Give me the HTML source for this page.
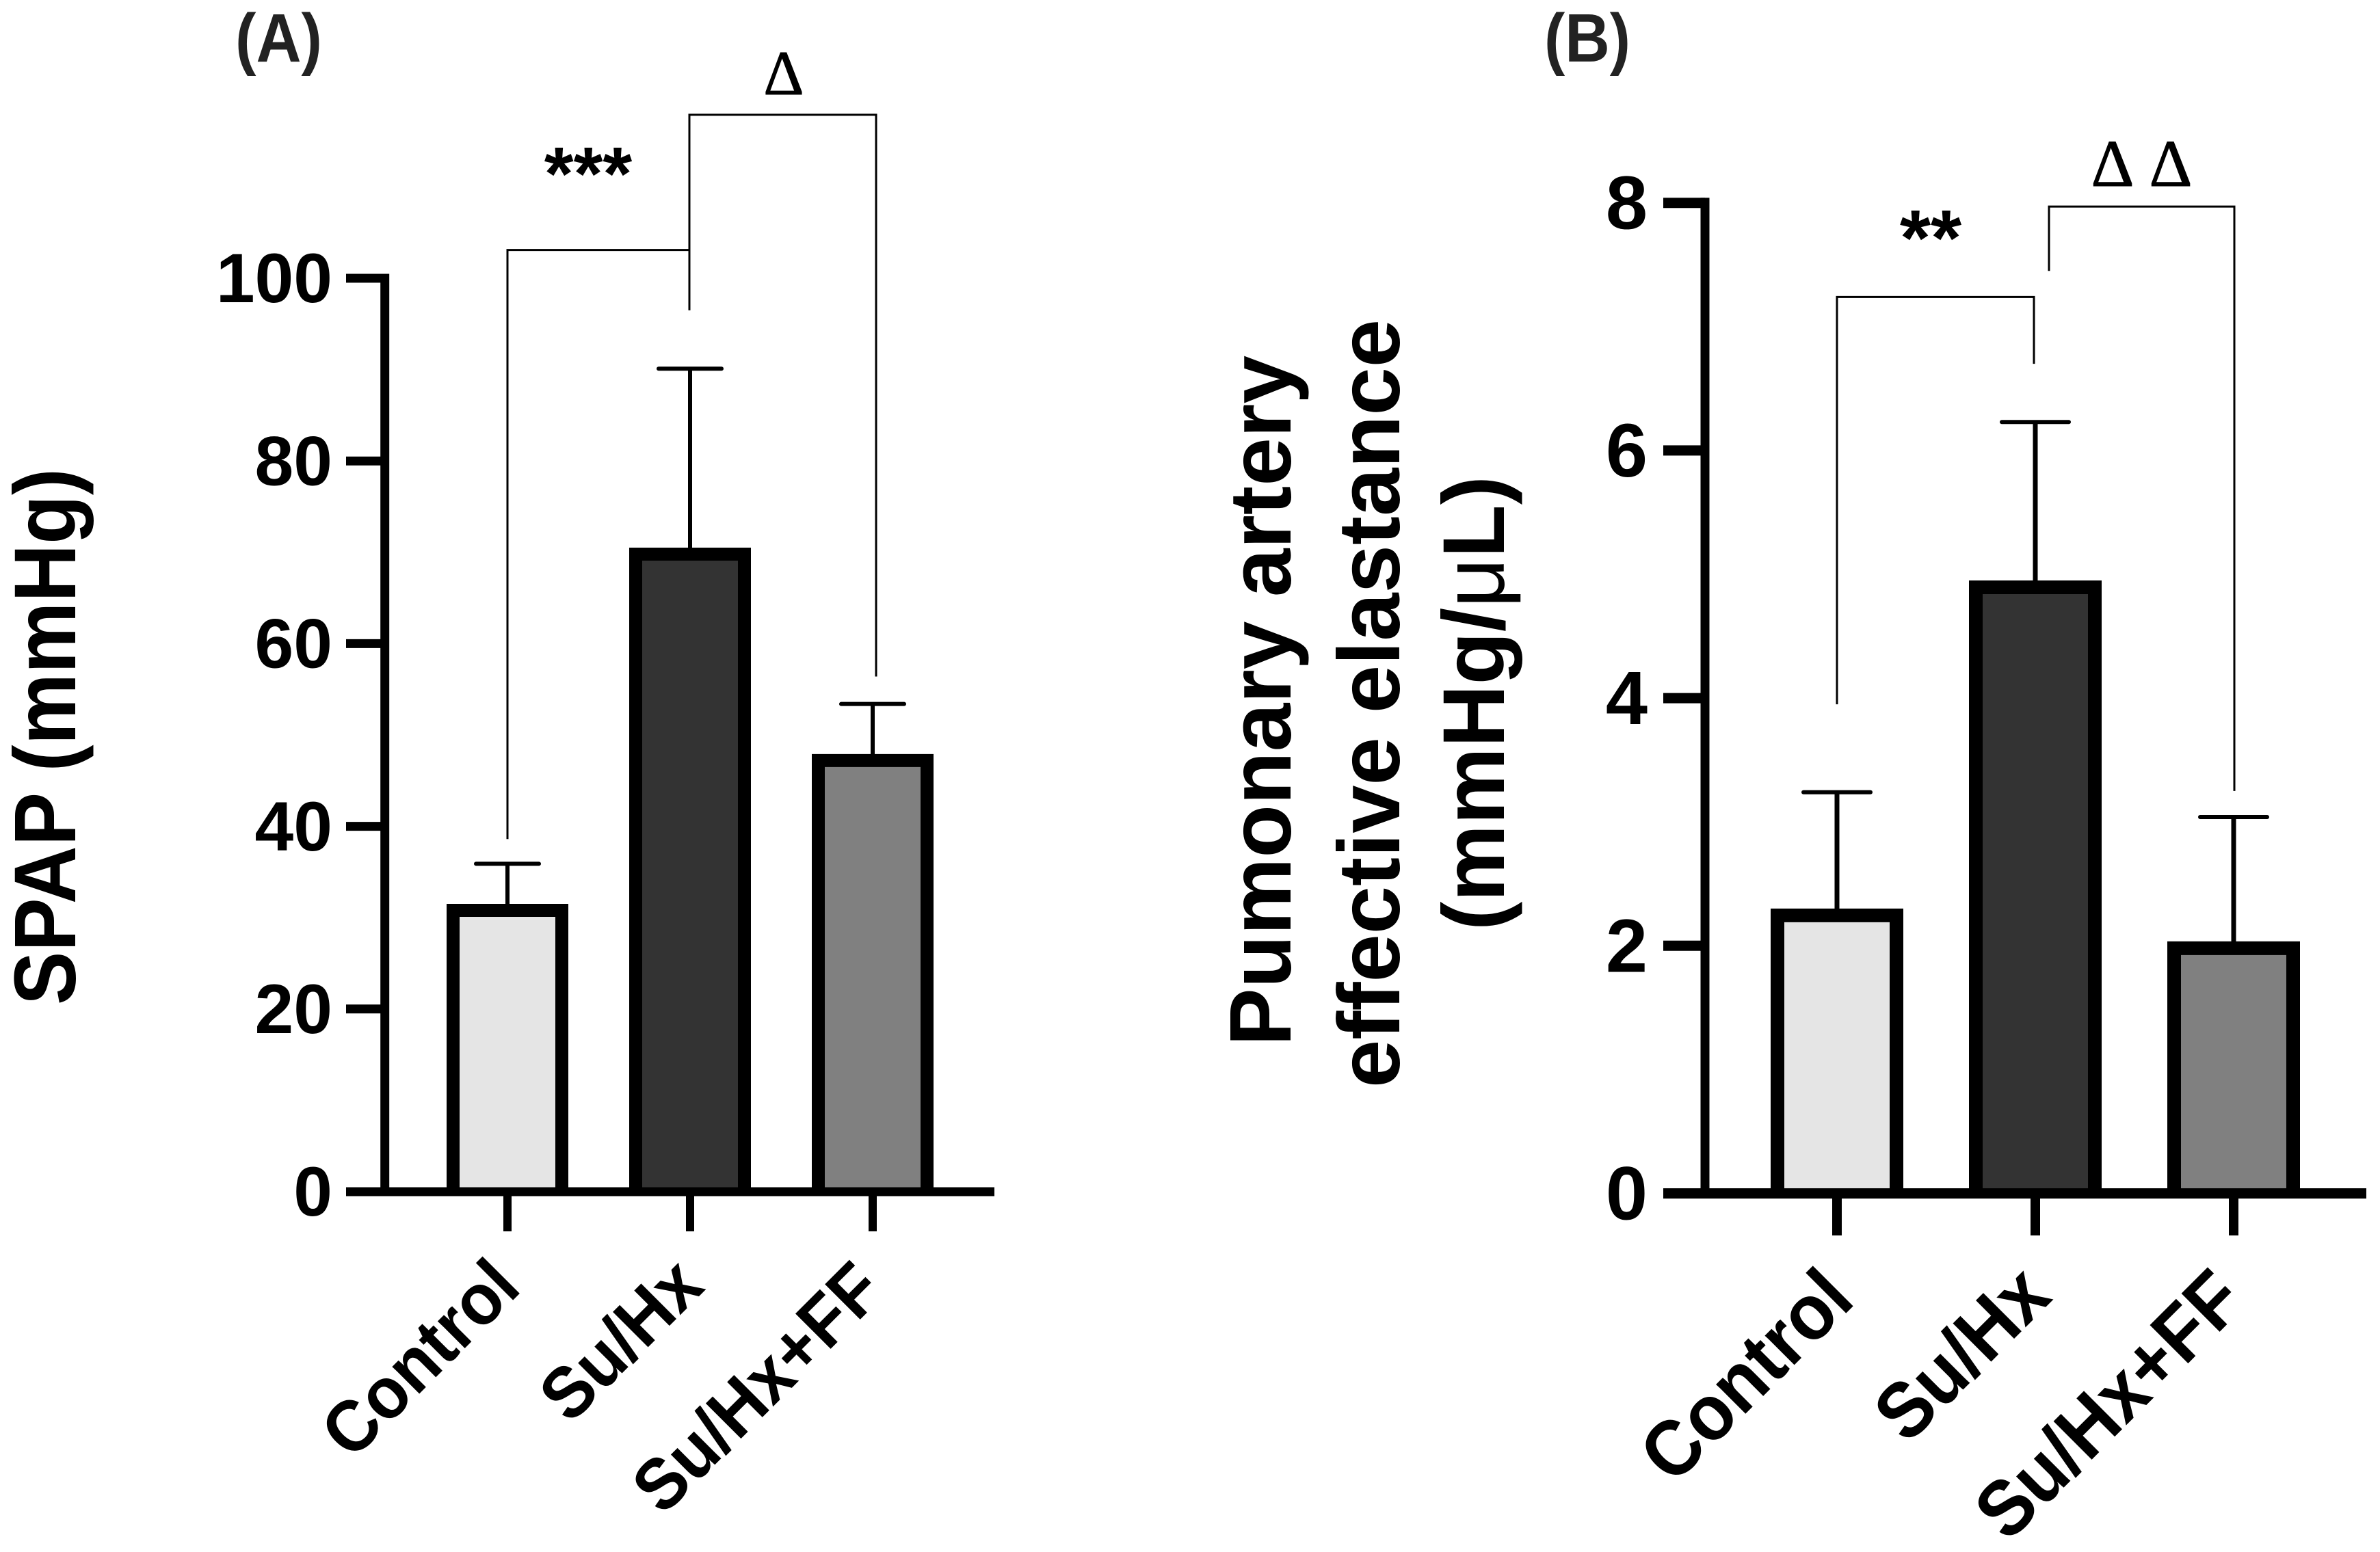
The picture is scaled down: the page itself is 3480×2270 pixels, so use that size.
<!DOCTYPE html>
<html lang="en">
<head>
<meta charset="utf-8">
<title>SPAP and pulmonary artery effective elastance</title>
<style>
html,body{margin:0;padding:0;background:#fff;}
svg{display:block;}
text{font-family:"Liberation Sans",sans-serif;font-weight:bold;fill:#000;}
.serif{font-family:"Liberation Serif",serif;font-weight:normal;stroke:#000;stroke-width:1;}
</style>
</head>
<body>
<svg id="fig" xmlns="http://www.w3.org/2000/svg" width="3480" height="2270" viewBox="0 0 3480 2270">
<rect x="0" y="0" width="3480" height="2270" fill="#fff"/>
<text x="344" y="90" font-size="100" style="fill:#222" textLength="127" lengthAdjust="spacingAndGlyphs">(A)</text>
<text x="2258" y="90" font-size="100" style="fill:#222" textLength="126" lengthAdjust="spacingAndGlyphs">(B)</text>
<text transform="translate(110,1470) rotate(-90)" font-size="128" textLength="785" lengthAdjust="spacingAndGlyphs">SPAP (mmHg)</text>
<text transform="translate(1887,1530) rotate(-90)" font-size="128" textLength="1010" lengthAdjust="spacingAndGlyphs">Pumonary artery</text>
<text transform="translate(2046,1591) rotate(-90)" font-size="128" textLength="1124" lengthAdjust="spacingAndGlyphs">effective elastance</text>
<text transform="translate(2199,1361) rotate(-90)" font-size="128" textLength="665" lengthAdjust="spacingAndGlyphs">(mmHg/<tspan style="font-weight:normal">μ</tspan>L)</text>
<text x="860" y="292" font-size="110" text-anchor="middle">***</text>
<text x="2823" y="388" font-size="116" text-anchor="middle">**</text>
<text class="serif" x="1146" y="138" font-size="92" text-anchor="middle">Δ</text>
<text class="serif" x="3089" y="272" font-size="98" text-anchor="middle">Δ</text>
<text class="serif" x="3174" y="272" font-size="98" text-anchor="middle">Δ</text>
</svg>
<script>
var categories = ['Control', 'Su/Hx', 'Su/Hx+FF'];
var barFills = ['#e5e5e5', '#333333', '#808080'];

var spapMeans = [30.8, 69.8, 47.2];
var spapErrorTops = [35.9, 90.1, 53.4];
var spapTicks = [0, 20, 40, 60, 80, 100];
var spapBracketLow = [[38.6, 96.5]];
var spapBracketHigh = [[103.1]];
var spapBracket2Low = [[96.5, 56.4]];
var spapBracket2High = [[117.9]];

var elastMeans = [2.245, 4.895, 1.98];
var elastErrorTops = [3.24, 6.23, 3.04];
var elastTicks = [0, 2, 4, 6, 8];
var elastBracketLow = [[3.95, 6.70]];
var elastBracketHigh = [[7.24]];
var elastBracket2Low = [[7.45, 3.25]];
var elastBracket2High = [[7.97]];

var svg = document.getElementById('fig');
var NS = 'http://www.w3.org/2000/svg';

function add(tag, attrs) {
  var el = document.createElementNS(NS, tag);
  for (var k in attrs) { el.setAttribute(k, attrs[k]); }
  svg.appendChild(el);
  return el;
}

function drawPanel(p) {
  var y = function (v) { return p.y0 - v * p.pxPerUnit; };
  var x = function (i) { return p.xFirst + i * p.xStep; };

  categories.forEach(function (c, i) {
    var stem = add('line', { x1: x(i), x2: x(i), y1: y(p.means[i]), y2: y(p.errs[i]), stroke: '#000', 'stroke-width': p.errW });
    
    
    var cap = add('line', { x1: x(i) - p.capHalf, x2: x(i) + p.capHalf, y1: y(p.errs[i]), y2: y(p.errs[i]), stroke: '#000', 'stroke-width': 6, 'stroke-linecap': 'round' });
    
    
    var xL = x(i) - p.barW / 2;
    var xR = x(i) + p.barW / 2;
    var barD = 'M' + xL + ' ' + y(0) + 'V' + y(p.means[i]) + 'H' + xR + 'V' + y(0);
    var bar = add('path', { d: barD, fill: barFills[i], stroke: '#000', 'stroke-width': p.barStroke });
    
    
  });

  var yAxis = add('line', { x1: p.axisX, x2: p.axisX, y1: y(p.ticks[p.ticks.length - 1]) - p.tickW / 2, y2: y(0), stroke: '#000', 'stroke-width': p.axisW });
  
  
  var xAxis = add('line', { x1: p.tickLeft, x2: p.axisRight, y1: y(0), y2: y(0), stroke: '#000', 'stroke-width': p.tickW });
  
  

  p.ticks.forEach(function (t) {
    var tick = add('line', { x1: p.tickLeft, x2: p.axisX, y1: y(t), y2: y(t), stroke: '#000', 'stroke-width': p.tickW });
    
    
    var lab = add('text', { 'font-size': p.tickFont, 'text-anchor': 'end', x: p.labelRight, y: y(t) + p.tickFont * 0.345 });
    
    
    lab.textContent = String(t);
  });

  categories.forEach(function (c, i) {
    var tick = add('line', { x1: x(i), x2: x(i), y1: y(0), y2: p.xTickEnd, stroke: '#000', 'stroke-width': p.xTickW });
    
    
    var lab = add('text', { 'font-size': p.xFont, 'text-anchor': 'end', transform: 'translate(' + (x(i) + p.labelDx[i]) + ',' + p.labelY[i] + ') rotate(-45) scale(' + p.xLabelScale + ',1)' });
    
    
    lab.textContent = c;
  });

  function bracket(name, i1, dx1, i2, dx2, top, low1, low2) {
    var d = 'M' + (x(i1) + dx1) + ' ' + y(low1) + 'V' + y(top) + 'H' + (x(i2) + dx2) + 'V' + y(low2);
    var path = add('path', { d: d, fill: 'none', stroke: '#000', 'stroke-width': 3 });
    
    
  }
  bracket('bracket-control-vs-suhx-' + p.id, 0, 0, 1, p.b1dx, p.b1High[0][0], p.b1Low[0][0], p.b1Low[0][1]);
  bracket('bracket-suhx-vs-ff-' + p.id, 1, p.b2dx, 2, p.b2dxR, p.b2High[0][0], p.b2Low[0][0], p.b2Low[0][1]);
}

drawPanel({
  id: 'a', y0: 1743, pxPerUnit: 13.36, xFirst: 742, xStep: 267,
  means: spapMeans, errs: spapErrorTops, ticks: spapTicks,
  barW: 159, barStroke: 19, errW: 6, capHalf: 46,
  axisX: 562.7, axisW: 13, tickLeft: 506, tickW: 13, axisRight: 1454,
  labelRight: 486, tickFont: 102,
  xTickEnd: 1801, xTickW: 12, xFont: 106, xLabelScale: 0.94,
  labelDx: [22.8, 24, 20], labelY: [1886.9, 1885, 1891.6],
  b1High: spapBracketHigh, b1Low: spapBracketLow, b1dx: -1,
  b2High: spapBracket2High, b2Low: spapBracket2Low, b2dx: -1, b2dxR: 5
});

drawPanel({
  id: 'b', y0: 1745.5, pxPerUnit: 181.1, xFirst: 2686, xStep: 290,
  means: elastMeans, errs: elastErrorTops, ticks: elastTicks,
  barW: 174, barStroke: 20, errW: 7, capHalf: 49,
  axisX: 2493, axisW: 13, tickLeft: 2432, tickW: 15, axisRight: 3460,
  labelRight: 2409, tickFont: 110,
  xTickEnd: 1807, xTickW: 14, xFont: 115, xLabelScale: 0.93,
  labelDx: [29, 27, 20.7], labelY: [1905, 1900, 1906.7],
  b1High: elastBracketHigh, b1Low: elastBracketLow, b1dx: -2,
  b2High: elastBracket2High, b2Low: elastBracket2Low, b2dx: 20, b2dxR: 1
});
</script>
</body>
</html>
